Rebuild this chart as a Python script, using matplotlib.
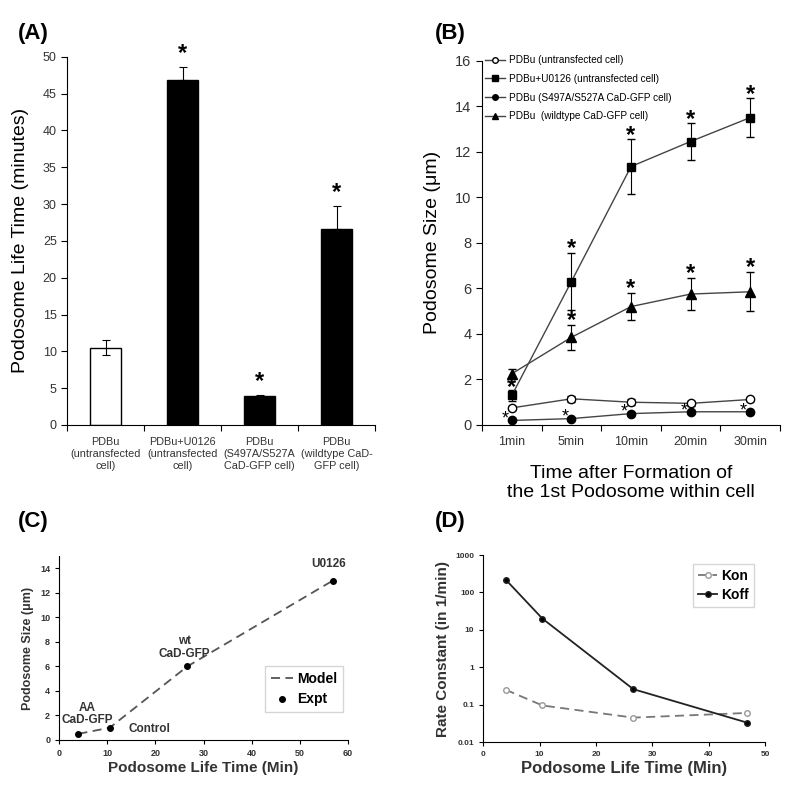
import matplotlib
matplotlib.use("Agg")
import matplotlib.pyplot as plt
from matplotlib.lines import Line2D
import numpy as np

plt.rcParams['font.family'] = ['Liberation Sans', 'DejaVu Sans']

# Panel A data
a_labels = ["PDBu\n(untransfected\ncell)", "PDBu+U0126\n(untransfected\ncell)",
            "PDBu\n(S497A/S527A\nCaD-GFP cell)", "PDBu\n(wildtype CaD-\nGFP cell)"]
a_values = [10.5, 46.8, 4.0, 26.6]
a_errors = [1.0, 1.8, 0.1, 3.1]
a_star = [False, True, True, True]

# Panel B data
b_times = ["1min", "5min", "10min", "20min", "30min"]
b_untrans = [0.75, 1.15, 1.0, 0.95, 1.12]
b_untrans_err = [0.08, 0.12, 0.12, 0.1, 0.06]
b_u0126 = [1.3, 6.3, 11.35, 12.45, 13.5]
b_u0126_err = [0.25, 1.25, 1.2, 0.8, 0.85]
b_aa = [0.2, 0.28, 0.5, 0.58, 0.58]
b_aa_err = [0.03, 0.03, 0.05, 0.05, 0.05]
b_wt = [2.25, 3.85, 5.2, 5.75, 5.85]
b_wt_err = [0.2, 0.55, 0.6, 0.7, 0.85]
b_labels = ["PDBu (untransfected cell)", "PDBu+U0126 (untransfected cell)",
            "PDBu (S497A/S527A CaD-GFP cell)", "PDBu  (wildtype CaD-GFP cell)"]

# Panel C data
c_life = [4.0, 10.5, 26.6, 56.8]
c_size = [0.5, 1.0, 6.0, 13.0]
c_names = ["AA\nCaD-GFP", "Control", "wt\nCaD-GFP", "U0126"]

# Panel D data
d_life = [4.0, 10.5, 26.6, 46.8]
d_kon = [0.25, 0.095, 0.045, 0.06]
d_koff = [220, 20, 0.26, 0.033]

fig = plt.figure(figsize=(8, 7.92), dpi=100)
grey = "#333333"

# ---------------- (A)
ax = fig.add_axes([0.084, 0.4634, 0.385, 0.465])
xa = np.arange(len(a_values))
colors = ["white", "black", "black", "black"]
ax.bar(xa, a_values, width=0.4, color=colors, edgecolor="black", linewidth=1)
ax.errorbar(xa, a_values, yerr=[[0 if c == "black" else e for e, c in zip(a_errors, colors)], a_errors],
            fmt="none", ecolor="black", elinewidth=0.8, capsize=3, capthick=0.8)
for i in range(len(a_values)):
    if a_star[i]:
        ax.text(xa[i], a_values[i] + a_errors[i] + 0.3, "*", ha="center", va="bottom",
                fontsize=17, fontweight="bold")
ax.set_xlim(-0.5, 3.5)
ax.set_ylim(0, 50)
ax.set_yticks(range(0, 51, 5))
ax.set_xticks([-0.5, 0.5, 1.5, 2.5, 3.5])
ax.set_xticklabels([])
ax.set_xticks(xa, minor=True)
ax.set_xticklabels(a_labels, minor=True, fontsize=7.8, color=grey)
ax.tick_params(axis="x", which="minor", length=0, pad=9)
ax.tick_params(axis="both", which="major", direction="out", length=4, labelsize=9, labelcolor=grey)
ax.spines["top"].set_visible(False)
ax.spines["right"].set_visible(False)
ax.set_ylabel("Podosome Life Time (minutes)", fontsize=14, labelpad=10)
fig.text(0.022, 0.958, "(A)", fontsize=16, fontweight="bold", va="center")

# ---------------- (B)
ax = fig.add_axes([0.6025, 0.4634, 0.3725, 0.46])
xb = np.arange(len(b_times))
lc = "#444444"
styles = [("o", "white"), ("s", "black"), ("o", "black"), ("^", "black")]
series = [(b_untrans, b_untrans_err), (b_u0126, b_u0126_err), (b_aa, b_aa_err), (b_wt, b_wt_err)]
for (vals, errs), (mk, fc) in zip(series, styles):
    ax.errorbar(xb, vals, yerr=errs, color=lc, lw=1, marker=mk, ms=7 if mk == "^" else 6,
                mfc=fc, mec="black", ecolor="black", capsize=3, elinewidth=0.8)
# significance stars
for i in range(len(b_times)):
    yu = 1.65 if i == 0 else b_u0126[i] + b_u0126_err[i] + 0.18
    ax.text(xb[i], yu, "*", ha="center", va="center", fontsize=17, fontweight="bold")
    if i > 0:
        ax.text(xb[i], b_wt[i] + b_wt_err[i] + 0.2, "*", ha="center", va="center",
                fontsize=17, fontweight="bold")
    ax.text(xb[i] - 0.11, b_aa[i] + 0.05, "*", ha="center", va="center", fontsize=13)
ax.set_xlim(-0.5, 4.5)
ax.set_ylim(0, 16)
ax.set_yticks(range(0, 17, 2))
ax.set_xticks([-0.5, 0.5, 1.5, 2.5, 3.5, 4.5])
ax.set_xticklabels([])
ax.set_xticks(xb, minor=True)
ax.set_xticklabels(b_times, minor=True, fontsize=9, color=grey)
ax.tick_params(axis="x", which="minor", length=0, pad=8)
ax.tick_params(axis="both", which="major", direction="out", length=4, labelsize=10.5, labelcolor=grey)
ax.spines["top"].set_visible(False)
ax.spines["right"].set_visible(False)
ax.set_ylabel("Podosome Size (\u03bcm)", fontsize=14, labelpad=10)
ax.set_xlabel("Time after Formation of\nthe 1st Podosome within cell", fontsize=14, labelpad=12)
handles = [Line2D([], [], color=lc, lw=1, marker=mk, ms=4, mfc=fc, mec="black")
           for mk, fc in styles]
ax.legend(handles, b_labels, loc="upper left", bbox_to_anchor=(-0.02, 1.04), frameon=False,
          fontsize=7.2, labelspacing=0.88, handlelength=2.0, handletextpad=0.4)
fig.text(0.544, 0.958, "(B)", fontsize=16, fontweight="bold", va="center")

# ---------------- (C)
ax = fig.add_axes([0.074, 0.0657, 0.361, 0.232])
ax.plot(c_life, c_size, color="#555555", lw=1.3, ls=(0, (5, 3)), label="Model")
ax.plot(c_life, c_size, ls="none", marker="o", ms=4, color="black", label="Expt")
label_pos = [(5.8, 1.1, "center", "bottom"), (14.5, 0.9, "left", "center"),
             (26.0, 6.5, "center", "bottom"), (55.9, 13.9, "center", "bottom")]
for name, (tx, ty, ha, va) in zip(c_names, label_pos):
    ax.text(tx, ty, name, ha=ha, va=va, fontsize=8.5, fontweight="bold", color=grey,
            linespacing=1.1)
ax.set_xlim(0, 60)
ax.set_ylim(0, 15)
ax.set_yticks(range(0, 15, 2))
ax.set_xticks(range(0, 61, 10))
ax.tick_params(direction="out", length=3, labelsize=6.5, labelcolor=grey)
for lab in ax.get_xticklabels() + ax.get_yticklabels():
    lab.set_fontweight("bold")
ax.spines["top"].set_visible(False)
ax.spines["right"].set_visible(False)
ax.set_ylabel("Podosome Size (\u03bcm)", fontsize=9, fontweight="bold", color=grey)
ax.set_xlabel("Podosome Life Time (Min)", fontsize=11, fontweight="bold", color=grey, labelpad=2)
leg = ax.legend(loc="lower right", bbox_to_anchor=(0.983, 0.152), borderaxespad=0,
                handlelength=1.6, handletextpad=0.3, borderpad=0.4, fancybox=False,
                prop={"weight": "bold", "size": 10})
leg.get_frame().set_edgecolor("#cccccc")
fig.text(0.022, 0.341, "(C)", fontsize=16, fontweight="bold", va="center")

# ---------------- (D)
ax = fig.add_axes([0.604, 0.0631, 0.3525, 0.236])
ax.plot(d_life, d_kon, color="#777777", lw=1.3, ls=(0, (5, 3)), marker="o", ms=4,
        mfc="white", mec="#999999", label="Kon")
ax.plot(d_life, d_koff, color="#222222", lw=1.3, marker="o", ms=4, mfc="black", label="Koff")
ax.set_yscale("log")
ax.set_xlim(0, 50)
ax.set_ylim(0.01, 1000)
ax.set_yticks([0.01, 0.1, 1, 10, 100, 1000])
ax.set_yticklabels(["0.01", "0.1", "1", "10", "100", "1000"])
ax.minorticks_off()
ax.set_xticks(range(0, 51, 10))
ax.tick_params(direction="out", length=3, labelsize=6, labelcolor=grey)
for lab in ax.get_xticklabels() + ax.get_yticklabels():
    lab.set_fontweight("bold")
ax.spines["top"].set_visible(False)
ax.spines["right"].set_visible(False)
ax.set_ylabel("Rate Constant (in 1/min)", fontsize=11, fontweight="bold", color=grey)
ax.set_xlabel("Podosome Life Time (Min)", fontsize=12, fontweight="bold", color=grey, labelpad=2)
leg = ax.legend(loc="upper right", bbox_to_anchor=(0.96, 0.95), borderaxespad=0,
                handlelength=1.4, handletextpad=0.3, borderpad=0.35, labelspacing=0.35,
                fancybox=False, prop={"weight": "bold", "size": 10})
leg.get_frame().set_edgecolor("#cccccc")
fig.text(0.544, 0.341, "(D)", fontsize=16, fontweight="bold", va="center")

fig.savefig("out.png", dpi=100)
